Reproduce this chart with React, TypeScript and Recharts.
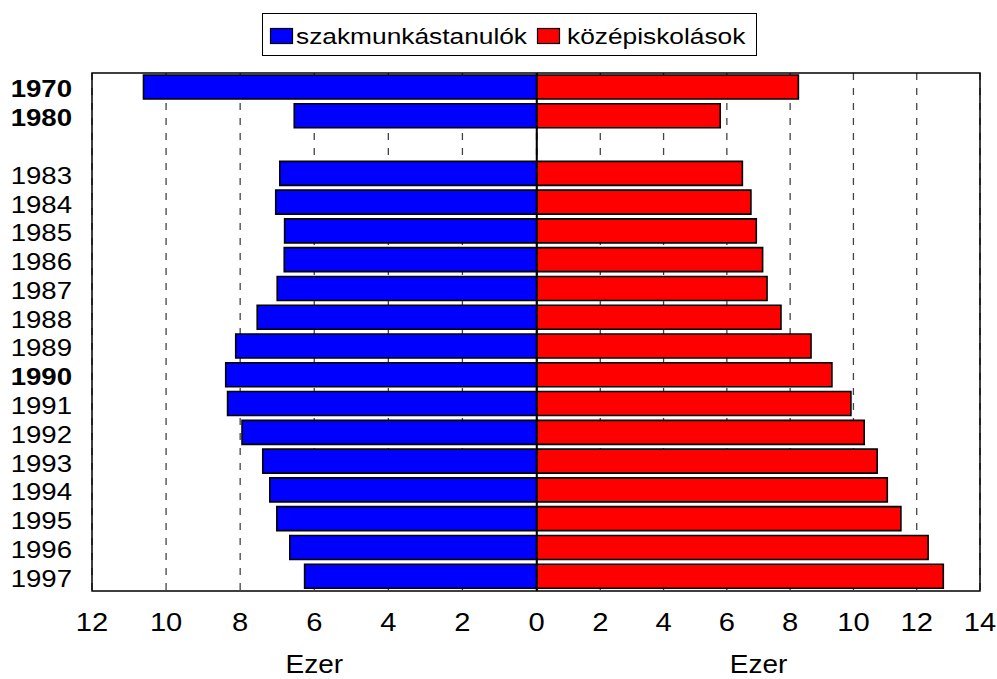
import { BarChart, Bar, XAxis, YAxis, CartesianGrid, ReferenceArea, Legend } from "recharts"

const years = ["1970", "1980", "", "1983", "1984", "1985", "1986", "1987", "1988", "1989", "1990", "1991", "1992", "1993", "1994", "1995", "1996", "1997"]
const szakmunkastanulok = [10.61, 6.54, null, 6.93, 7.04, 6.8, 6.81, 7.0, 7.54, 8.12, 8.39, 8.34, 7.95, 7.39, 7.2, 7.01, 6.66, 6.26]
const kozepiskolasok = [8.26, 5.79, null, 6.49, 6.76, 6.93, 7.13, 7.27, 7.71, 8.66, 9.32, 9.92, 10.34, 10.75, 11.07, 11.5, 12.36, 12.84]
const boldYears = ["1970", "1980", "1990"]
const leftTicks = [0, 2, 4, 6, 8, 10, 12]
const rightTicks = [0, 2, 4, 6, 8, 10, 12, 14]
const seriesNames = ["szakmunkástanulók", "középiskolások"]
const seriesColors = ["#0000ff", "#ff0000"]
const axisTitle = "Ezer"

const data = years.map((year, i) => ({
  year,
  szak: szakmunkastanulok[i],
  kozep: kozepiskolasok[i],
}))

const FONT = "'Liberation Sans', Arial, sans-serif"

function YearTick({ x, y, payload }: any) {
  if (!payload.value) return <g />
  const bold = boldYears.includes(payload.value)
  return (
    <text
      transform={`translate(${x - 20},${y + 10}) scale(1.2,1)`}
      textAnchor="end"
      fontFamily={FONT}
      fontSize={23}
      fontWeight={bold ? 700 : 400}
      fill="#000"
    >
      {payload.value}
    </text>
  )
}

function makeValueTick(skipZero: boolean) {
  return function ValueTick({ x, y, payload }: any) {
    if (skipZero && payload.value === 0) return <g />
    return (
      <text
        transform={`translate(${x},${y + 40}) scale(1.1,1)`}
        textAnchor="middle"
        fontFamily={FONT}
        fontSize={26.5}
        fill="#000"
      >
        {payload.value}
      </text>
    )
  }
}

function AxisTitle({ viewBox }: any) {
  const { x, y, width } = viewBox
  return (
    <text
      transform={`translate(${x + width / 2},${y + 82}) scale(1.12,1)`}
      textAnchor="middle"
      fontFamily={FONT}
      fontSize={25}
      fill="#000"
    >
      {axisTitle}
    </text>
  )
}

function LegendBox() {
  const swatchX = [8, 275]
  const textX = [34, 305]
  return (
    <svg width={496} height={44} style={{ display: "block" }}>
      <rect x={0.5} y={0.5} width={494} height={42} fill="#fff" stroke="#000" />
      {seriesNames.map((name, i) => (
        <g key={name}>
          <rect x={swatchX[i] + 0.5} y={15.5} width={22} height={15} fill={seriesColors[i]} stroke="#000" strokeWidth={1.2} />
          <text
            transform={`translate(${textX[i]},31) scale(1.17,1)`}
            fontFamily={FONT}
            fontSize={22.5}
            fill="#000"
          >
            {name}
          </text>
        </g>
      ))}
    </svg>
  )
}

const LeftTick = makeValueTick(false)
const RightTick = makeValueTick(true)

export default function App() {
  return (
    <div style={{ position: "absolute", left: 0, top: 0, width: 997, height: 679, background: "#fff", overflow: "hidden" }}>
      <div style={{ position: "absolute", left: 0, top: 0 }}>
        <BarChart
          width={560}
          height={679}
          data={data}
          layout="vertical"
          margin={{ top: 73, right: 23.5, bottom: 0, left: 0 }}
          barSize={24}
        >
          <CartesianGrid horizontal={false} stroke="#444" strokeDasharray="7 8" strokeWidth={1.3} />
          <XAxis
            type="number"
            domain={[0, 12]}
            ticks={leftTicks}
            reversed
            interval={0}
            height={88}
            tickSize={0}
            tickMargin={0}
            axisLine={false}
            tickLine={false}
            tick={LeftTick}
            label={{ content: AxisTitle }}
          />
          <YAxis
            type="category"
            dataKey="year"
            width={92}
            interval={0}
            tickSize={0}
            tickMargin={0}
            axisLine={false}
            tickLine={false}
            tick={YearTick}
          />
          <Bar dataKey="szak" name={seriesNames[0]} fill={seriesColors[0]} stroke="#000" strokeWidth={1.6} isAnimationActive={false} />
          <ReferenceArea x1={0} x2={12} fill="none" stroke="#000" strokeWidth={1.5} ifOverflow="visible" />
          <Legend
            layout="horizontal"
            verticalAlign="middle"
            align="center"
            content={LegendBox}
            wrapperStyle={{ left: 262, top: 13, width: 496, height: 44, zIndex: 5 }}
          />
        </BarChart>
      </div>
      <div style={{ position: "absolute", left: 537, top: 0 }}>
        <BarChart
          width={460}
          height={679}
          data={data}
          layout="vertical"
          margin={{ top: 73, right: 17, bottom: 0, left: 0 }}
          barSize={24}
        >
          <CartesianGrid horizontal={false} stroke="#444" strokeDasharray="7 8" strokeWidth={1.3} />
          <XAxis
            type="number"
            domain={[0, 14]}
            ticks={rightTicks}
            interval={0}
            height={88}
            tickSize={0}
            tickMargin={0}
            axisLine={false}
            tickLine={false}
            tick={RightTick}
            label={{ content: AxisTitle }}
          />
          <YAxis type="category" dataKey="year" hide />
          <Bar dataKey="kozep" name={seriesNames[1]} fill={seriesColors[1]} stroke="#000" strokeWidth={1.6} isAnimationActive={false} />
          <ReferenceArea x1={0} x2={14} fill="none" stroke="#000" strokeWidth={1.5} ifOverflow="visible" />
        </BarChart>
      </div>
    </div>
  )
}
